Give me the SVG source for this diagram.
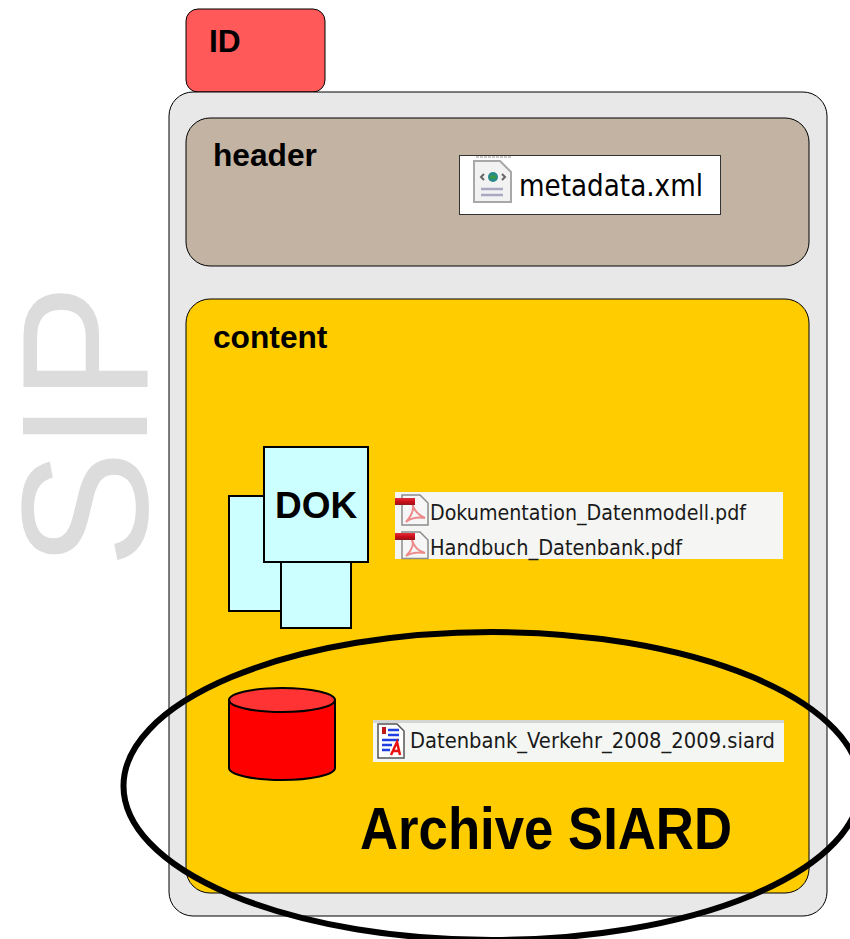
<svg xmlns="http://www.w3.org/2000/svg" width="850" height="939" viewBox="0 0 850 939">
<defs>
<linearGradient id="redbar" x1="0" y1="0" x2="0" y2="1"><stop offset="0" stop-color="#e0303a"/><stop offset="0.6" stop-color="#c80a14"/><stop offset="1" stop-color="#8e1a20"/></linearGradient>
</defs>
<style>
text{font-family:"Liberation Sans",Arial,sans-serif;fill:#000}
.b{font-weight:bold}
.lbl{font-size:31.700px;font-weight:bold}
.f{font-family:"DejaVu Sans",sans-serif;fill:#1a1a1a}
.box{stroke:#000;stroke-width:1}
.doc{fill:#ccffff;stroke:#000;stroke-width:2}
.page{fill:#f6f6f6;stroke:#8c8c8c;stroke-width:1.500}
.sw{fill:none;stroke:#ec8a8a;stroke-width:2}
</style>
<rect width="850" height="939" fill="#fff"/>
<g id="sip-label"><text transform="translate(147 568) rotate(-90)" font-size="180" textLength="284" lengthAdjust="spacingAndGlyphs" style="fill:#dcdcdc">SIP</text></g>
<g id="id"><rect class="box" x="186" y="9" width="139" height="83" rx="12" fill="#ff5959"/><text class="lbl" x="209" y="52">ID</text></g>
<g id="sip"><rect class="box" x="169" y="92" width="658" height="824" rx="24" fill="#e8e8e8"/></g>
<g id="header"><rect class="box" x="186" y="118" width="623" height="148" rx="24" fill="#c2b3a3"/><text class="lbl" x="213" y="166">header</text></g>
<g id="metadata">
<rect x="459.500" y="155.500" width="261" height="59" fill="#fff" stroke="#333"/>
<path d="M474 161H500L511 172V202H474Z" fill="#f2f2f2" stroke="#a8a8a8" stroke-width="2"/>
<path d="M476 157H511" stroke="#c8c8c8" stroke-width="2" stroke-dasharray="3 1"/>
<circle cx="493" cy="177" r="5" fill="#2a8a8a"/>
<path d="M490 177h6" stroke="#3a9a40" stroke-width="3"/>
<path d="M484 174l-3 3 3 3M502 174l3 3-3 3" fill="none" stroke="#666" stroke-width="2"/>
<path d="M481 189H503M481 195H503" stroke="#a8a8c4" stroke-width="2.500"/>
<text class="f" x="519" y="196" font-size="30" textLength="184" lengthAdjust="spacingAndGlyphs" style="fill:#000">metadata.xml</text>
</g>
<g id="content"><rect class="box" x="186" y="299" width="623" height="594" rx="24" fill="#ffcc00"/><text class="lbl" x="213" y="348">content</text></g>
<g id="dok">
<rect class="doc" x="229" y="496" width="73" height="115"/>
<rect class="doc" x="281" y="513" width="70" height="115"/>
<rect class="doc" x="264" y="447" width="104" height="115"/>
<text x="275" y="518" font-size="37" class="b">DOK</text>
</g>
<g id="pdf-files">
<rect x="395" y="492" width="388" height="67" fill="#f5f6f3"/>
<path class="page" d="M402 495H420L428 503V525H402Z"/>
<path class="page" d="M402 532H420L428 540V558.500H402Z"/>
<path class="sw" d="M406 522C413 514 414 507 412 503C414 511 418 515 425 518C418 517 411 518 406 522Z"/>
<path class="sw" d="M406 556C413 549 414 544 412 540C414 547 418 551 425 553C418 552 411 553 406 556Z"/>
<rect x="395" y="498" width="20" height="7" fill="url(#redbar)"/>
<rect x="395" y="533" width="20" height="7" fill="url(#redbar)"/>
<text class="f" x="430" y="520" font-size="21" textLength="316" lengthAdjust="spacingAndGlyphs">Dokumentation_Datenmodell.pdf</text>
<text class="f" x="430" y="555" font-size="21" textLength="252" lengthAdjust="spacingAndGlyphs">Handbuch_Datenbank.pdf</text>
</g>
<g id="database">
<path d="M229 700V768A53 12 0 0 0 335 768V700Z" fill="#ff0000" stroke="#000" stroke-width="2"/>
<ellipse cx="282" cy="700" rx="53" ry="12" fill="#ff3333" stroke="#000" stroke-width="2"/>
</g>
<g id="siard-file">
<rect x="373" y="720" width="411" height="42" fill="#f4f6f4"/>
<rect x="373" y="720" width="411" height="3" fill="#d4d4d4"/>
<path d="M378 724H397L404 731V758H378Z" fill="#fff" stroke="#555" stroke-width="1.500"/>
<rect x="382" y="727" width="4" height="7" fill="#c01818"/>
<path d="M388 730H399M388 735H399M382 740H399M382 745H392M382 750H390" stroke="#1f3fe0" stroke-width="2.500"/>
<path d="M391 755L397 742L400 755M393 751H399" fill="none" stroke="#e81010" stroke-width="2.500"/>
<text class="f" x="410" y="748" font-size="21" textLength="365" lengthAdjust="spacingAndGlyphs">Datenbank_Verkehr_2008_2009.siard</text>
</g>
<g id="archive-siard">
<ellipse cx="492" cy="786" rx="368.500" ry="154" fill="none" stroke="#000" stroke-width="6"/>
<text x="360" y="849" font-size="60" class="b" textLength="372" lengthAdjust="spacingAndGlyphs">Archive SIARD</text>
</g>
<g id="connectors"></g>
</svg>
